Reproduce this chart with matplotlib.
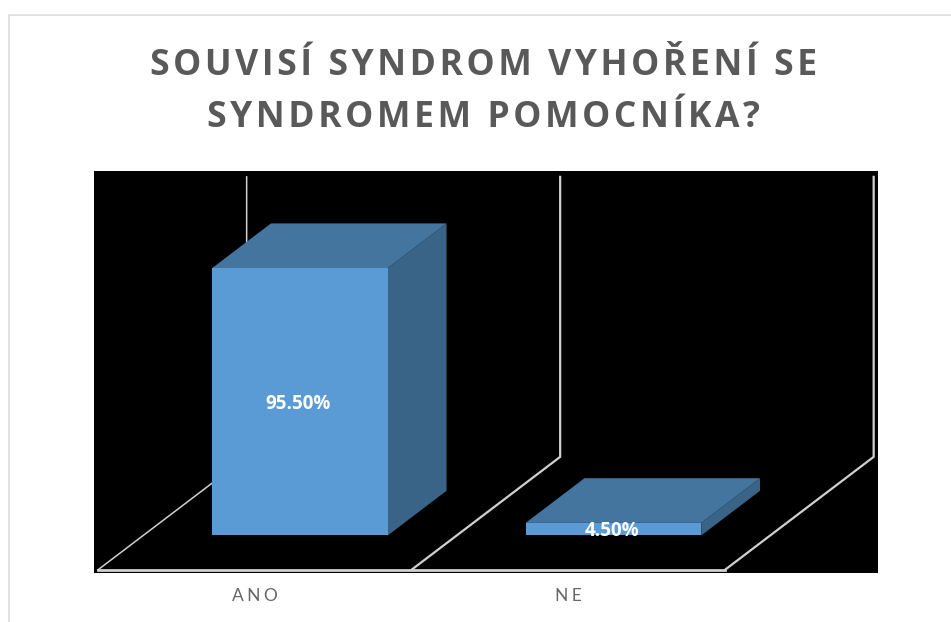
import matplotlib
matplotlib.use('Agg')
import matplotlib.pyplot as plt
from matplotlib.lines import Line2D
from matplotlib.patches import Polygon

categories = ['ANO', 'NE']
values = [95.5, 4.5]
title_lines = ['SOUVISÍ SYNDROM VYHOŘENÍ SE', 'SYNDROMEM POMOCNÍKA?']
value_max = 100

W, H = 951, 622
HAIR = '\u200a'

# oblique projection of the 3d chart, depth goes 0 (front) to 1 (back wall)
DEPTH_X = 0.475
DEPTH_Y = 40.4
BAR_WIDTH = 0.56
BAR_D0 = 0.305
BAR_D1 = 0.70


def project(x, v, d):
    return x + d * DEPTH_X, v + d * DEPTH_Y


def spaced(s, n=1):
    return (HAIR * n).join(s)


fig = plt.figure(figsize=(W / 100, H / 100), dpi=100, facecolor='white')

# outer chart border, only left and top show
fig.add_artist(Line2D([9 / W, 9 / W, 1], [0, 1 - 14.5 / H, 1 - 14.5 / H],
                      color='#d9d9d9', lw=1.1))

ax = fig.add_axes([94 / W, 1 - 573 / H, (878 - 94) / W, (573 - 171) / H])
ax.set_facecolor('black')
ax.set_xlim((94 - 254.5) / 313.5, (878 - 254.5) / 313.5)
ax.set_ylim(-3 / 2.8, 399 / 2.8)
for s in ax.spines.values():
    s.set_visible(False)

ax.set_xticks(range(len(categories)))
ax.set_xticklabels([spaced(c, 3) for c in categories], fontsize=12.5,
                   color='#666666', family=['Lato', 'DejaVu Sans'])
ax.set_yticks([])
ax.tick_params('x', length=0, pad=11)

# floor and wall lines, the first wall is thinner in the original
grid = dict(color='#d0d0d0', lw=1.6, zorder=1, solid_joinstyle='miter')
edges = [i - 0.5 for i in range(len(categories) + 1)]
for i, e in enumerate(edges):
    xs, ys = zip(project(e, 0, 0), project(e, 0, 1), project(e, value_max, 1))
    ax.plot(xs, ys, **dict(grid, lw=1.1 if i == 0 else 1.6))
ax.plot([edges[0], edges[-1]], [0, 0], **dict(grid, lw=2.0))

for i, (cat, v) in enumerate(zip(categories, values)):
    x0, x1 = i - BAR_WIDTH / 2, i + BAR_WIDTH / 2
    front = [project(x0, 0, BAR_D0), project(x1, 0, BAR_D0),
             project(x1, v, BAR_D0), project(x0, v, BAR_D0)]
    top = [project(x0, v, BAR_D0), project(x1, v, BAR_D0),
           project(x1, v, BAR_D1), project(x0, v, BAR_D1)]
    side = [project(x1, 0, BAR_D0), project(x1, 0, BAR_D1),
            project(x1, v, BAR_D1), project(x1, v, BAR_D0)]
    ax.add_patch(Polygon(side, facecolor='#3a6487', edgecolor='none', zorder=2))
    ax.add_patch(Polygon(top, facecolor='#44759f', edgecolor='none', zorder=2))
    ax.add_patch(Polygon(front, facecolor='#5b9bd5', edgecolor='none', zorder=3))

    ax.annotate(f'{v:.2f}%', project(i, v / 2, BAR_D0), xytext=(-1, -1.5),
                textcoords='offset points', color='white', fontsize=13.5,
                fontweight='bold', ha='center', va='center',
                family='Open Sans', zorder=4)

for line, base in zip(title_lines, [75, 127]):
    fig.text(483.5 / W, 1 - base / H, spaced(line, 1), fontsize=25.6, fontweight='bold',
             color='#595959', ha='center', va='baseline',
             family=['Open Sans', 'DejaVu Sans'])

fig.savefig('out.png', dpi=100)
